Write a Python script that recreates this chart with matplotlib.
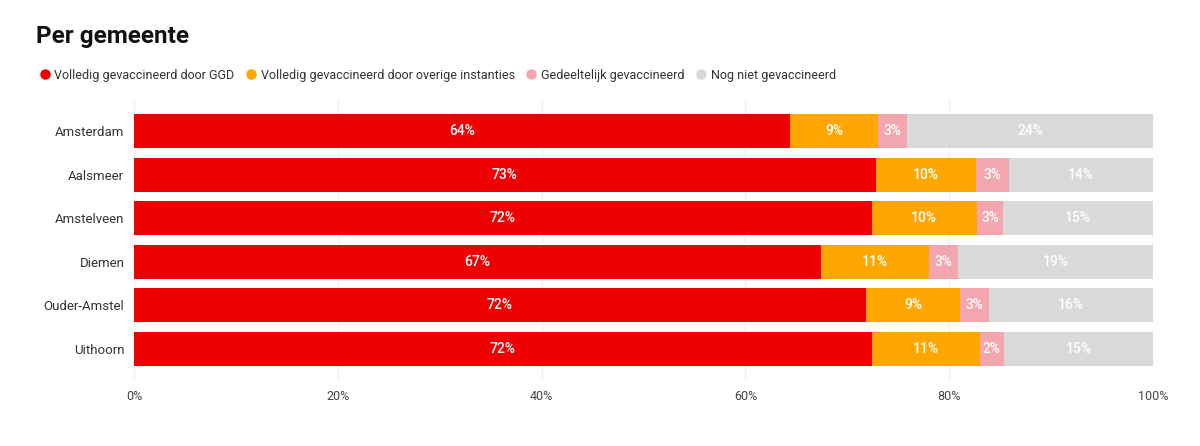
import matplotlib
matplotlib.use("Agg")
import matplotlib.pyplot as plt
from matplotlib.lines import Line2D
import numpy as np

gemeenten = ["Amsterdam", "Aalsmeer", "Amstelveen", "Diemen", "Ouder-Amstel", "Uithoorn"]
ggd = [64.4, 72.8, 72.4, 67.4, 71.8, 72.4]
overig = [8.6, 9.8, 10.3, 10.6, 9.3, 10.6]
gedeeltelijk = [2.9, 3.3, 2.6, 2.9, 2.8, 2.4]
niet = [24.1, 14.1, 14.7, 19.1, 16.1, 14.6]
series_names = ["Volledig gevaccineerd door GGD",
                "Volledig gevaccineerd door overige instanties",
                "Gedeeltelijk gevaccineerd",
                "Nog niet gevaccineerd"]
colors = ["#EE0000", "#FFA600", "#F4A6AE", "#D9D9D9"]
xticks = [0, 20, 40, 60, 80, 100]
xticklabels = ["0%", "20%", "40%", "60%", "80%", "100%"]

plt.rcParams['font.family'] = ['Roboto', 'DejaVu Sans']

fig = plt.figure(figsize=(12, 4.46), dpi=100)
ax = fig.add_axes([134/1200, 1-380/446, (1153-134)/1200, 280/446])

y = np.arange(len(gemeenten))
left = np.zeros(len(gemeenten))
for vals, col in zip([ggd, overig, gedeeltelijk, niet], colors):
    vals = np.array(vals)
    ax.barh(y, vals, left=left, height=0.78, color=col, zorder=2)
    for yi, l, v in zip(y, left, vals):
        ax.text(l + v/2, yi, f"{round(v)}%", ha="center", va="center",
                color="white", fontsize=10, fontweight="medium", zorder=3)
    left += vals

ax.set_xlim(0, 100)
ax.set_ylim(len(gemeenten) - 1 + 0.71, -0.71)
ax.set_yticks(y)
ax.set_yticklabels(gemeenten, fontsize=9.5, color="#333333")
ax.set_xticks(xticks)
ax.set_xticklabels(xticklabels, fontsize=9, color="#444444")
ax.tick_params(axis="both", length=0)
ax.tick_params(axis="y", pad=7)
ax.tick_params(axis="x", pad=7)
ax.xaxis.grid(True, color="#F0F0F0", linewidth=1, zorder=0)
for s in ax.spines.values():
    s.set_visible(False)

fig.text(36/1200, 1-36/446, "Per gemeente", fontsize=17.5, fontweight="bold",
         color="#111111", va="center", ha="left")

handles = [Line2D([0], [0], marker="o", linestyle="", markersize=6.5,
                  markerfacecolor=c, markeredgecolor=c) for c in colors]
fig.legend(handles, series_names, loc="center left",
           bbox_to_anchor=(32/1200, 1-75/446), ncol=4, frameon=False,
           fontsize=9.0, handletextpad=-0.2, columnspacing=0.3,
           labelcolor="#333333", borderaxespad=0, borderpad=0)

fig.savefig("out.png", dpi=100, facecolor="white")
